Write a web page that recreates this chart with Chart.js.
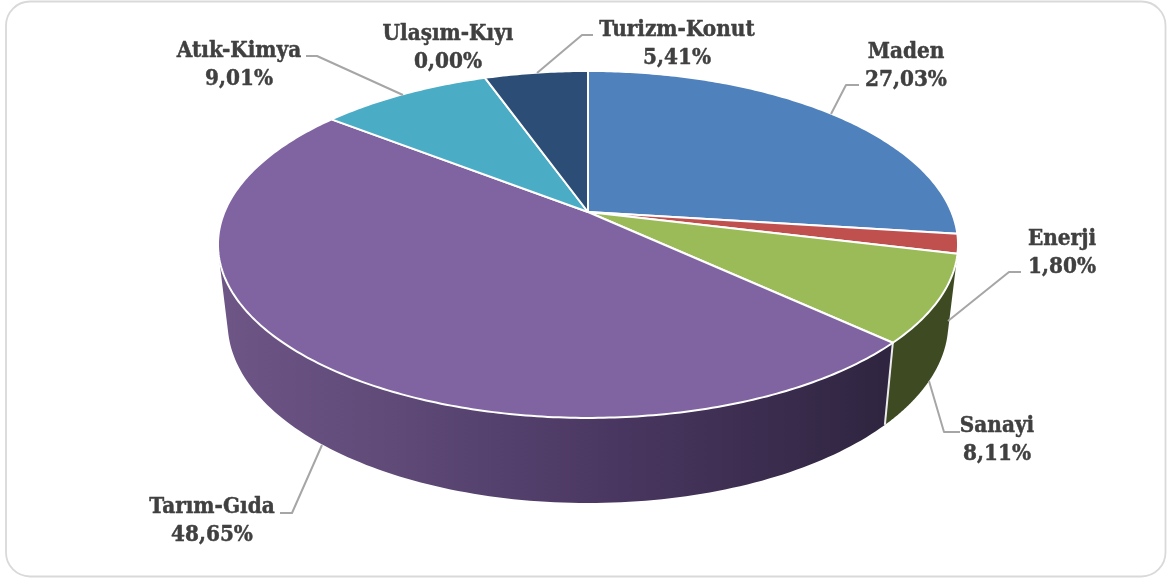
<!DOCTYPE html>
<html lang="tr">
<head>
<meta charset="utf-8">
<style>html,body{margin:0;padding:0;background:#fff}canvas{display:block}</style>
<script src="https://cdn.jsdelivr.net/npm/chart.js@4"></script>
</head>
<body>
<canvas id="c" width="1167" height="578"></canvas>
<script>
const categories = ['Maden','Enerji','Sanayi','Tarım-Gıda','Atık-Kimya','Ulaşım-Kıyı','Turizm-Konut'];
const shares = [27.03,1.80,8.11,48.65,9.01,0.00,5.41];
const shareLabels = ['27,03%','1,80%','8,11%','48,65%','9,01%','0,00%','5,41%'];
const colors = ['#4f81bd','#c0504d','#9bbb59','#8064a2','#4bacc6','#f79646','#2c4d75'];

// Layout of labels: [centre x, first baseline, leader polyline]
const labelLayout = [
  [906,58,[[859,85],[846,85],[831,114]]],
  [1062,245,[[1021,272],[1009,272],[948,321]]],
  [997,432,[[960,432],[944,432],[929,381]]],
  [212,513,[[280,513],[292,513],[322,445]]],
  [239,57,[[306,56],[317,56],[403,95]]],
  [448,39.5,null],
  [677,35.5,[[593,35],[582,35],[537,73]]]
];
const FONT = 'bold 22.3px "DejaVu Serif Condensed","DejaVu Serif",serif';
const LINE_GAP = 28;

// Perspective projection of the unit disc on to the page
const K = -0.187;
const topFace = {cx:588, cy:212, bx:363.5, by:167.4};
const botFace = {cx:588, cy:289, bx:354, by:174};
function project(f, a){
  const u = Math.cos(a), v = Math.sin(a), d = 1 + K*v;
  return [f.cx + f.bx*u/d, f.cy + f.by*v/d];
}
function sideFill(ctx, i){
  if(i===2) return '#3d4a22';
  const g = ctx.createLinearGradient(228,0,885,0);
  g.addColorStop(0,'#6d5585');
  g.addColorStop(0.25,'#5f4a78');
  g.addColorStop(0.6,'#493660');
  g.addColorStop(1,'#2f2540');
  return g;
}
const perspectivePie = {
  id:'perspectivePie',
  beforeDraw(chart){
    const ctx = chart.ctx;
    ctx.save();
    ctx.fillStyle='#fff';
    ctx.fillRect(0,0,chart.width,chart.height);
    ctx.beginPath();
    ctx.roundRect(6,1.5,1159.5,575,24);
    ctx.strokeStyle='#d9d9d9';
    ctx.lineWidth=1.8;
    ctx.stroke();
    ctx.restore();
  },
  beforeDatasetDraw(chart){
    const ctx = chart.ctx, arcs = chart.getDatasetMeta(0).data;
    ctx.save();
    // walls
    [3,2].forEach(i=>{
      const arc = arcs[i], n = 160;
      const s = arc.startAngle, e = arc.endAngle;
      ctx.beginPath();
      for(let k=0;k<n;k++){
        const a0 = s+(e-s)*k/n, a1 = s+(e-s)*(k+1)/n;
        const q = [project(topFace,a0),project(topFace,a1),project(botFace,a1),project(botFace,a0)];
        let area = 0;
        q.forEach((p,j)=>{const r=q[(j+1)%4]; area += p[0]*r[1]-r[0]*p[1];});
        if(area<0) q.reverse();
        q.forEach((p,j)=> j? ctx.lineTo(p[0],p[1]) : ctx.moveTo(p[0],p[1]));
        ctx.closePath();
      }
      ctx.fillStyle = sideFill(ctx,i);
      ctx.fill('nonzero');
    });
    // edge between the two walls
    const ea = arcs[3].startAngle, t = project(topFace,ea), b = project(botFace,ea);
    ctx.beginPath(); ctx.moveTo(t[0],t[1]); ctx.lineTo(b[0],b[1]);
    ctx.strokeStyle='#ececee'; ctx.lineWidth=2; ctx.stroke();
    // top face
    arcs.forEach((arc,i)=>{
      if(arc.endAngle-arc.startAngle<=0) return;
      const n = Math.max(8,Math.ceil((arc.endAngle-arc.startAngle)*80));
      ctx.beginPath();
      ctx.moveTo(topFace.cx,topFace.cy);
      for(let k=0;k<=n;k++){
        const p = project(topFace,arc.startAngle+(arc.endAngle-arc.startAngle)*k/n);
        ctx.lineTo(p[0],p[1]);
      }
      ctx.closePath();
      ctx.fillStyle=colors[i];
      ctx.fill();
      ctx.strokeStyle='#fff'; ctx.lineWidth=2; ctx.lineJoin='round';
      ctx.stroke();
    });
    ctx.restore();
    return false;
  },
  afterDatasetsDraw(chart){
    const ctx = chart.ctx;
    ctx.save();
    ctx.strokeStyle='#a6a6a6'; ctx.lineWidth=2; ctx.lineJoin='round';
    labelLayout.forEach(l=>{
      if(!l[2]) return;
      ctx.beginPath();
      l[2].forEach((p,j)=> j? ctx.lineTo(p[0],p[1]) : ctx.moveTo(p[0],p[1]));
      ctx.stroke();
    });
    ctx.font=FONT; ctx.fillStyle='#404040'; ctx.strokeStyle='#404040'; ctx.lineWidth=0.45;
    ctx.textAlign='center'; ctx.textBaseline='alphabetic';
    categories.forEach((c,i)=>{
      const l = labelLayout[i];
      [[c,l[1]],[shareLabels[i],l[1]+LINE_GAP]].forEach(([s,y])=>{
        ctx.fillText(s,l[0],y);
        ctx.strokeText(s,l[0],y);
      });
    });
    ctx.restore();
  }
};
new Chart(document.getElementById('c'),{
  type:'pie',
  data:{labels:categories,datasets:[{data:shares,backgroundColor:colors,borderColor:'#fff'}]},
  options:{
    responsive:false,animation:false,
    plugins:{legend:{display:false},tooltip:{enabled:false}}
  },
  plugins:[perspectivePie]
});
</script>
</body>
</html>
